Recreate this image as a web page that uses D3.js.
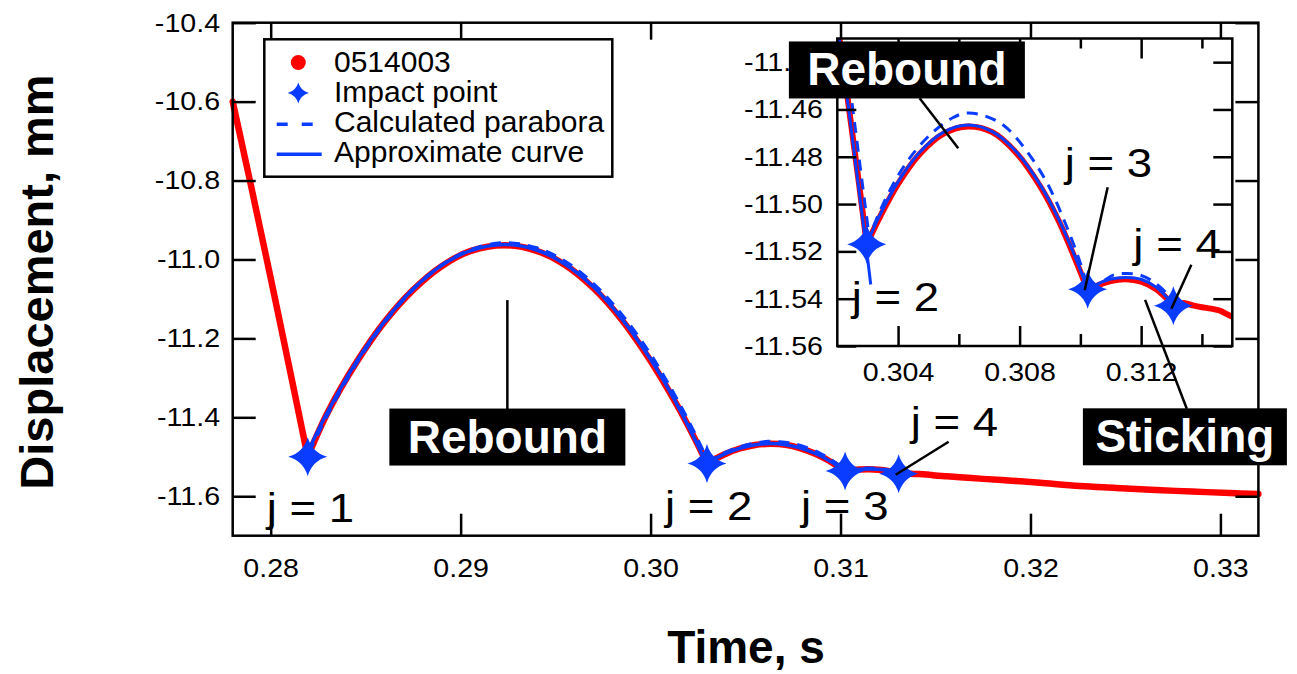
<!DOCTYPE html>
<html>
<head>
<meta charset="utf-8">
<title>impact rebound</title>
<style>
  body { margin: 0; background: #fff; }
  svg { display: block; font-family: "Liberation Sans", Arial, Helvetica, sans-serif; }
</style>
</head>
<body>
<svg width="1297" height="674"></svg>
<script src="https://d3js.org/d3.v7.min.js"></script>
<script>

// ---- data (time in s, displacement in mm) ----

// axis limits and ticks
var timeDomain = [0.278, 0.332];
var dispDomain = [-11.7, -10.4];
var timeTicks = [0.28, 0.29, 0.30, 0.31, 0.32, 0.33];
var dispTicks = [-11.6, -11.4, -11.2, -11.0, -10.8, -10.6, -10.4];

var insetTimeDomain = [0.302, 0.315];
var insetDispDomain = [-11.56, -11.43];
var insetTimeTicks = [0.304, 0.308, 0.312];
var insetTimeMinor = [0.306, 0.310, 0.314];
var insetDispTicks = [-11.56, -11.54, -11.52, -11.50, -11.48, -11.46, -11.44];

// measured run 0514003, seg = 0 fall, 1..3 rebounds, 4 sticking
var measT = [0.2780, 0.2790, 0.2800, 0.2810, 0.28195,
  0.28195, 0.2830, 0.2845, 0.2860, 0.2875, 0.2890, 0.2905, 0.2923, 0.2940, 0.2955, 0.2970, 0.2985, 0.3000, 0.3010, 0.3016, 0.3022, 0.3027, 0.30297,
  0.30297, 0.3034, 0.3040, 0.3047, 0.3055, 0.3063, 0.3071, 0.3079, 0.3087, 0.3093, 0.3099, 0.31024,
  0.31024, 0.3106, 0.3110, 0.3115, 0.3120, 0.3125, 0.31306,
  0.31306, 0.3134, 0.3137, 0.3140, 0.3143, 0.3146, 0.3148, 0.3150, 0.3156, 0.3165, 0.3175, 0.3190, 0.3205, 0.3226, 0.3245, 0.3266, 0.3285, 0.3305, 0.3320];
var measY = [-10.600, -10.821, -11.047, -11.278, -11.500,
  -11.500, -11.388, -11.262, -11.158, -11.077, -11.017, -10.979, -10.964, -10.978, -11.014, -11.073, -11.154, -11.257, -11.336, -11.387, -11.442, -11.490, -11.517,
  -11.517, -11.5055, -11.4915, -11.4790, -11.4702, -11.4672, -11.4696, -11.4785, -11.4930, -11.5075, -11.5255, -11.5365,
  -11.5365, -11.5342, -11.5325, -11.5318, -11.5328, -11.5360, -11.5428,
  -11.5428, -11.5418, -11.5428, -11.5436, -11.5442, -11.5451, -11.5464, -11.5476, -11.5495, -11.5525, -11.5560, -11.5605, -11.5660, -11.5742, -11.5790, -11.5843, -11.5880, -11.5920, -11.5944];
var measSeg = [0, 0, 0, 0, 0,
  1, 1, 1, 1, 1, 1, 1, 1, 1, 1, 1, 1, 1, 1, 1, 1, 1, 1,
  2, 2, 2, 2, 2, 2, 2, 2, 2, 2, 2, 2,
  3, 3, 3, 3, 3, 3, 3,
  4, 4, 4, 4, 4, 4, 4, 4, 4, 4, 4, 4, 4, 4, 4, 4, 4, 4, 4];

// approximate curve, one piece per rebound
var approxT = [0.2819, 0.2830, 0.2845, 0.2860, 0.2875, 0.2890, 0.2905, 0.2923, 0.2940, 0.2955, 0.2970, 0.2985, 0.3000, 0.3010, 0.3021, 0.30296, 0.3031,
  0.30297, 0.3034, 0.3040, 0.3047, 0.3055, 0.30631, 0.3071, 0.3079, 0.3087, 0.3093, 0.3099, 0.31024,
  0.31024, 0.3106, 0.3110, 0.3115, 0.3120, 0.3125, 0.31306];
var approxY = [-11.493, -11.386, -11.260, -11.157, -11.075, -11.015, -10.978, -10.962, -10.976, -11.012, -11.070, -11.151, -11.253, -11.333, -11.433, -11.519, -11.534,
  -11.5168, -11.5047, -11.4906, -11.4783, -11.4696, -11.4666, -11.4694, -11.4780, -11.4923, -11.5068, -11.5246, -11.5361,
  -11.5361, -11.5336, -11.5317, -11.5310, -11.5318, -11.5352, -11.5425];
var approxSeg = [1, 1, 1, 1, 1, 1, 1, 1, 1, 1, 1, 1, 1, 1, 1, 1, 1,
  2, 2, 2, 2, 2, 2, 2, 2, 2, 2, 2, 2,
  3, 3, 3, 3, 3, 3, 3];

// calculated parabola, one piece per rebound
var calcT = [0.2820, 0.2835, 0.2850, 0.2865, 0.2880, 0.2895, 0.2910, 0.2924, 0.2940, 0.2955, 0.2970, 0.2985, 0.3000, 0.3010, 0.3020, 0.3029, 0.30305,
  0.30297, 0.3034, 0.3040, 0.3046, 0.3052, 0.3058, 0.3062, 0.3068, 0.3075, 0.3082, 0.3089, 0.3095, 0.3100, 0.31024,
  0.31024, 0.31065, 0.31108, 0.31153, 0.31196, 0.31240, 0.31284, 0.31306];
var calcY = [-11.489, -11.347, -11.227, -11.129, -11.053, -10.999, -10.968, -10.958, -10.971, -11.005, -11.062, -11.141, -11.241, -11.321, -11.410, -11.499, -11.514,
  -11.517, -11.503, -11.488, -11.477, -11.469, -11.4635, -11.4616, -11.4625, -11.467, -11.477, -11.491, -11.508, -11.525, -11.536,
  -11.536, -11.5335, -11.5300, -11.5293, -11.5300, -11.5328, -11.5377, -11.5413];
var calcSeg = [1, 1, 1, 1, 1, 1, 1, 1, 1, 1, 1, 1, 1, 1, 1, 1, 1,
  2, 2, 2, 2, 2, 2, 2, 2, 2, 2, 2, 2, 2, 2,
  3, 3, 3, 3, 3, 3, 3, 3];

// impact points
var impactT = [0.28195, 0.30297, 0.31024, 0.31306];
var impactY = [-11.500, -11.517, -11.536, -11.543];
var impactLabels = ["j = 1", "j = 2", "j = 3", "j = 4"];

var legendLabels = ["0514003", "Impact point", "Calculated parabora", "Approximate curve"];

// ---- drawing ----

var RED = "#ff0000", BLUE = "#0a3cff";
var STRETCH = "scale(1.1,1)";     // tick labels are a bit wide in the original

var svg = d3.select("svg");

var x = d3.scaleLinear().domain(timeDomain).range([232.7, 1258.4]);
var y = d3.scaleLinear().domain(dispDomain).range([535.7, 22.7]);

var xi = d3.scaleLinear().domain(insetTimeDomain).range([837.3, 1232.3]);
var yi = d3.scaleLinear().domain(insetDispDomain).range([346, 38.5]);

function rows(ts, vs, segs) {
    return ts.map(function (t, i) { return { t: t, v: vs[i], s: segs[i] }; });
}
var meas = rows(measT, measY, measSeg);
var approx = rows(approxT, approxY, approxSeg);
var calc = rows(calcT, calcY, calcSeg);
var impacts = impactT.map(function (t, i) { return { t: t, v: impactY[i], label: impactLabels[i] }; });

function starPath(r) {
    var k = r * 0.22;
    return "M0," + (-r) + "Q" + k + "," + (-k) + " " + r + ",0" +
        "Q" + k + "," + k + " 0," + r +
        "Q" + (-k) + "," + k + " " + (-r) + ",0" +
        "Q" + (-k) + "," + (-k) + " 0," + (-r) + "Z";
}

// red data, dashed parabola, solid curve, stars
function drawCurves(g, xs, ys, redWidth, blueWidth) {
    var line = d3.line()
        .x(function (d) { return xs(d.t); })
        .y(function (d) { return ys(d.v); })
        .curve(d3.curveCatmullRom.alpha(0.5));

    g.selectAll(".meas")
        .data(d3.groups(meas, function (d) { return d.s; }))
        .join("path")
        .attr("class", "meas")
        .attr("d", function (d) { return line(d[1]); })
        .attr("fill", "none")
        .attr("stroke", RED)
        .attr("stroke-width", redWidth)
        .attr("stroke-linecap", "round")
        .attr("stroke-linejoin", "round");

    g.selectAll(".calc")
        .data(d3.groups(calc, function (d) { return d.s; }))
        .join("path")
        .attr("class", "calc")
        .attr("d", function (d) { return line(d[1]); })
        .attr("fill", "none")
        .attr("stroke", BLUE)
        .attr("stroke-width", blueWidth)
        .attr("stroke-dasharray", "11,8");

    g.selectAll(".approx")
        .data(d3.groups(approx, function (d) { return d.s; }))
        .join("path")
        .attr("class", "approx")
        .attr("d", function (d) { return line(d[1]); })
        .attr("fill", "none")
        .attr("stroke", BLUE)
        .attr("stroke-width", blueWidth);

    g.selectAll(".impact")
        .data(impacts.filter(function (d) {
            var dm = xs.domain();
            return d.t >= dm[0] && d.t <= dm[1];
        }))
        .join("path")
        .attr("class", "impact")
        .attr("transform", function (d) { return "translate(" + xs(d.t) + "," + ys(d.v) + ")"; })
        .attr("d", starPath(19.5))
        .attr("fill", BLUE);
}

function styleAxis(g, size) {
    g.select(".domain").remove();
    g.selectAll(".tick line").attr("stroke", "#000").attr("stroke-width", 2.5);
    g.selectAll(".tick text")
        .attr("fill", "#000")
        .attr("transform", STRETCH)
        .style("font-size", size + "px");
}

// main plot
var main = svg.append("g");
drawCurves(main, x, y, 6.5, 3.5);

main.append("g")
    .attr("transform", "translate(0," + y.range()[0] + ")")
    .call(d3.axisBottom(x).tickValues(timeTicks).tickSize(-22).tickPadding(23)
        .tickFormat(function (d) { return d.toFixed(2); }))
    .call(styleAxis, 26);
main.append("g")
    .attr("transform", "translate(0," + y.range()[1] + ")")
    .call(d3.axisTop(x).tickValues(timeTicks).tickSize(-17).tickFormat(""))
    .call(styleAxis, 26);
main.append("g")
    .attr("transform", "translate(" + x.range()[0] + ",0)")
    .call(d3.axisLeft(y).tickValues(dispTicks).tickSize(-23).tickPadding(11.5)
        .tickFormat(function (d) { return d.toFixed(1); }))
    .call(styleAxis, 26);
main.append("g")
    .attr("transform", "translate(" + x.range()[1] + ",0)")
    .call(d3.axisRight(y).tickValues(dispTicks).tickSize(-23).tickFormat(""))
    .call(styleAxis, 26);

main.append("rect")
    .attr("x", x.range()[0])
    .attr("y", y.range()[1])
    .attr("width", x.range()[1] - x.range()[0])
    .attr("height", y.range()[0] - y.range()[1])
    .attr("fill", "none")
    .attr("stroke", "#000")
    .attr("stroke-width", 2.5);

// axis titles
svg.append("text")
    .attr("x", 746)
    .attr("y", 663)
    .attr("text-anchor", "middle")
    .style("font-size", "46px")
    .style("font-weight", "bold")
    .text("Time, s");

svg.append("text")
    .attr("transform", "translate(53,282) rotate(-90)")
    .attr("text-anchor", "middle")
    .style("font-size", "47px")
    .style("font-weight", "bold")
    .text("Displacement, mm");

// j labels, placed by offset from their star
function jLabel(g, px, py, o, text) {
    g.append("text")
        .attr("transform", "translate(" + (px + o.dx) + "," + (py + o.dy) + ") scale(1.14,1)")
        .style("font-size", "40px")
        .text(text);
    if (o.lead) {
        g.append("line")
            .attr("x1", px + o.lead[0]).attr("y1", py + o.lead[1])
            .attr("x2", px + o.lead[2]).attr("y2", py + o.lead[3])
            .attr("stroke", "#000").attr("stroke-width", 2.5);
    }
}

var mainJ = [
    { dx: -41, dy: 65 },
    { dx: -42, dy: 57 },
    { dx: -44, dy: 49 },
    { dx: 12, dy: -38, lead: [50, -32, -3, 1] }
];
impacts.forEach(function (d, i) {
    jLabel(main, x(d.t), y(d.v), mainJ[i], d.label);
});

function tag(g, cx, cy, w, text) {
    g.append("rect")
        .attr("x", cx - w / 2).attr("y", cy - 28.5)
        .attr("width", w).attr("height", 57)
        .attr("fill", "#000");
    g.append("text")
        .attr("x", cx).attr("y", cy + 15.5)
        .attr("text-anchor", "middle")
        .attr("fill", "#fff")
        .style("font-size", "46px")
        .style("font-weight", "bold")
        .text(text);
}

// main "Rebound" tag with its leader
main.append("line")
    .attr("x1", x(0.29246)).attr("y1", y(-11.103))
    .attr("x2", x(0.29246)).attr("y2", y(-11.45) - 28)
    .attr("stroke", "#000").attr("stroke-width", 2.5);
tag(main, x(0.29246), y(-11.45), 236, "Rebound");

// legend
var leg = svg.append("g");
leg.append("rect")
    .attr("x", 264.3).attr("y", 39.3)
    .attr("width", 348).attr("height", 137.4)
    .attr("fill", "#fff")
    .attr("stroke", "#000")
    .attr("stroke-width", 2.5);
leg.append("circle").attr("cx", 298.3).attr("cy", 62.5).attr("r", 7.5).attr("fill", RED);
leg.append("path").attr("transform", "translate(298.3,93)").attr("d", starPath(10.5)).attr("fill", BLUE);
leg.append("line")
    .attr("x1", 276.7).attr("x2", 314).attr("y1", 124.3).attr("y2", 124.3)
    .attr("stroke", BLUE).attr("stroke-width", 3.5).attr("stroke-dasharray", "11,14");
leg.append("line")
    .attr("x1", 276.7).attr("x2", 321.7).attr("y1", 154.3).attr("y2", 154.3)
    .attr("stroke", BLUE).attr("stroke-width", 3.5);
leg.selectAll(".lt")
    .data(legendLabels)
    .join("text")
    .attr("class", "lt")
    .attr("x", 334)
    .attr("y", function (d, i) { return 71.5 + i * 30.3; })
    .style("font-size", "30px")
    .text(function (d) { return d; });

// inset
var inset = svg.append("g");
inset.append("rect")
    .attr("x", xi.range()[0]).attr("y", yi.range()[1])
    .attr("width", xi.range()[1] - xi.range()[0])
    .attr("height", yi.range()[0] - yi.range()[1])
    .attr("fill", "#fff");

svg.append("defs").append("clipPath")
    .attr("id", "inset-clip")
    .append("rect")
    .attr("x", xi.range()[0]).attr("y", yi.range()[1])
    .attr("width", xi.range()[1] - xi.range()[0])
    .attr("height", yi.range()[0] - yi.range()[1]);

var insetPlot = inset.append("g").attr("clip-path", "url(#inset-clip)");
drawCurves(insetPlot, xi, yi, 6, 3);

inset.append("g")
    .attr("transform", "translate(0," + yi.range()[0] + ")")
    .call(d3.axisBottom(xi).tickValues(insetTimeTicks).tickSize(-20).tickPadding(17)
        .tickFormat(function (d) { return d.toFixed(3); }))
    .call(styleAxis, 26);
inset.append("g")
    .attr("transform", "translate(0," + yi.range()[0] + ")")
    .call(d3.axisBottom(xi).tickValues(insetTimeMinor).tickSize(-12).tickFormat(""))
    .call(styleAxis, 26);
inset.append("g")
    .attr("transform", "translate(0," + yi.range()[1] + ")")
    .call(d3.axisTop(xi).tickValues(insetTimeTicks).tickSize(-20).tickFormat(""))
    .call(styleAxis, 26);
inset.append("g")
    .attr("transform", "translate(0," + yi.range()[1] + ")")
    .call(d3.axisTop(xi).tickValues(insetTimeMinor).tickSize(-10).tickFormat(""))
    .call(styleAxis, 26);
inset.append("g")
    .attr("transform", "translate(" + xi.range()[0] + ",0)")
    .call(d3.axisLeft(yi).tickValues(insetDispTicks).tickSize(-19).tickPadding(13)
        .tickFormat(function (d) { return d.toFixed(2); }))
    .call(styleAxis, 26);
inset.append("g")
    .attr("transform", "translate(" + xi.range()[1] + ",0)")
    .call(d3.axisRight(yi).tickValues(insetDispTicks).tickSize(-19).tickFormat(""))
    .call(styleAxis, 26);

inset.append("rect")
    .attr("x", xi.range()[0]).attr("y", yi.range()[1])
    .attr("width", xi.range()[1] - xi.range()[0])
    .attr("height", yi.range()[0] - yi.range()[1])
    .attr("fill", "none")
    .attr("stroke", "#000")
    .attr("stroke-width", 2.5);

// inset j labels (impacts 2..4)
var insetJ = [
    null,
    { dx: -15, dy: 67 },
    { dx: -23, dy: -112, lead: [20, -102, -3, 1] },
    { dx: -40, dy: -48, lead: [18, -41, -2, 3] }
];
impacts.forEach(function (d, i) {
    if (insetJ[i]) jLabel(inset, xi(d.t), yi(d.v), insetJ[i], d.label);
});

// inset "Rebound" tag
inset.append("line")
    .attr("x1", xi(0.30471)).attr("y1", yi(-11.4553))
    .attr("x2", xi(0.30598)).attr("y2", yi(-11.4764))
    .attr("stroke", "#000").attr("stroke-width", 2.5);
tag(inset, xi(0.30429), yi(-11.4433), 236, "Rebound");

// "Sticking" tag, leader runs from the inset curve
svg.append("line")
    .attr("x1", xi(0.31213)).attr("y1", yi(-11.5405))
    .attr("x2", x(0.32823)).attr("y2", y(-11.4494) - 28)
    .attr("stroke", "#000").attr("stroke-width", 2.5);
tag(svg, x(0.32813), y(-11.4494), 204, "Sticking");

</script>
</body>
</html>
